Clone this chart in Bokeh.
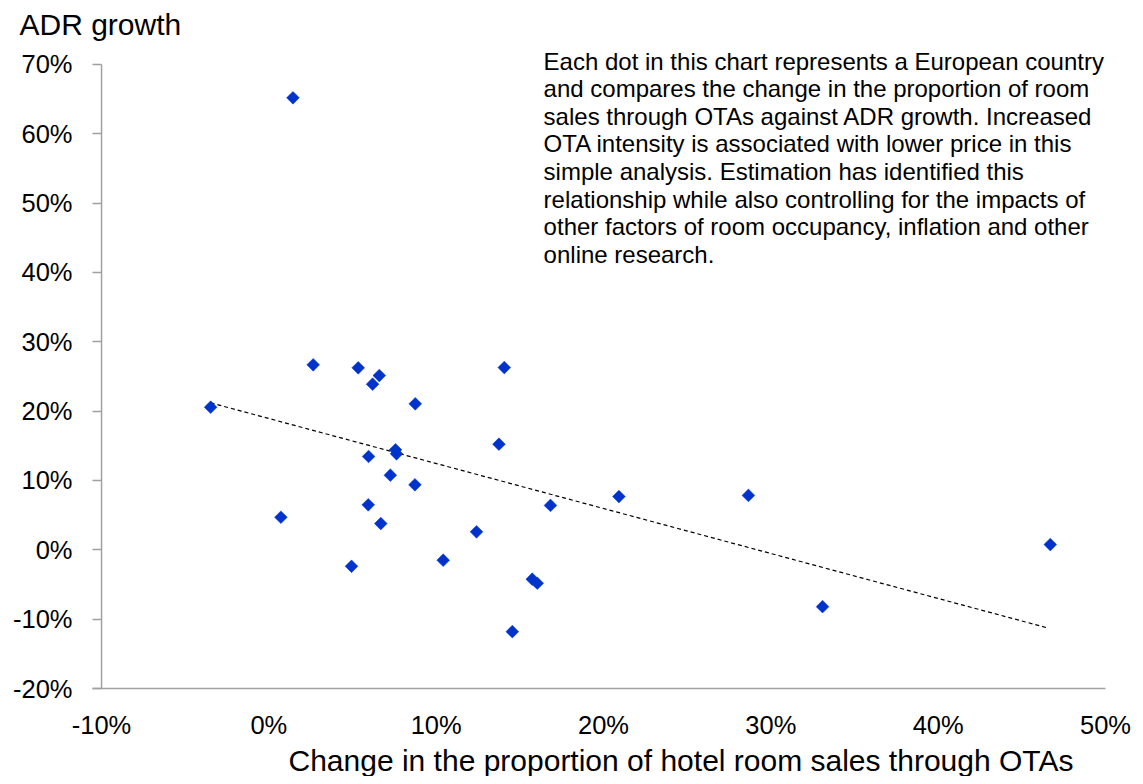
import math
from bokeh.plotting import figure
from bokeh.models import Range1d, FixedTicker, PrintfTickFormatter, Label, ColumnDataSource, Title
from bokeh.embed import file_html
from bokeh.resources import INLINE

# Change in proportion of hotel room sales through OTAs (%)
ota_change = [-3.48, 2.65, 5.34, 6.60, 6.20, 8.75, 14.07, 13.75, 7.57, 7.63,
              5.96, 7.26, 8.73, 16.83, 5.94, 0.72, 6.69, 12.41, 10.42, 4.94,
              15.74, 16.04, 1.44, 14.55, 20.92, 28.66, 33.09, 46.70]
# ADR growth (%)
adr_growth = [20.57, 26.68, 26.25, 25.14, 23.89, 21.06, 26.29, 15.23, 14.42, 13.85,
              13.46, 10.76, 9.38, 6.41, 6.49, 4.70, 3.79, 2.60, -1.50, -2.37,
              -4.24, -4.82, 65.20, -11.80, 7.69, 7.85, -8.20, 0.76]

# Linear trend line end points
trend_x = [-3.48, 46.6]
trend_y = [21.2, -11.3]

x_ticks = [-10, 0, 10, 20, 30, 40, 50]
y_ticks = [-20, -10, 0, 10, 20, 30, 40, 50, 60, 70]
x_min, y_min, y_top = -10, -20, 70

x_title = "Change in the proportion of hotel room sales through OTAs"
y_title = "ADR growth"
note = ("Each dot in this chart represents a European country\n"
        "and compares the change in the proportion of room\n"
        "sales through OTAs against ADR growth. Increased\n"
        "OTA intensity is associated with lower price in this\n"
        "simple analysis. Estimation has identified this\n"
        "relationship while also controlling for the impacts of\n"
        "other factors of room occupancy, inflation and other\n"
        "online research.")

FONT = "Liberation Sans"
AXIS_GREY = "#A0A0A0"

p = figure(width=1135, height=776, output_backend="svg", toolbar_location=None,
           x_range=Range1d(-10.54, 50), y_range=Range1d(-20, 73.46),
           min_border_left=92, min_border_right=30, min_border_top=40, min_border_bottom=88)
p.outline_line_color = None
p.xgrid.visible = False
p.ygrid.visible = False
p.background_fill_color = "white"
p.border_fill_color = "white"

t = Title(text=y_title, align="left", offset=-73, text_font=FONT,
          text_font_size="30px", text_font_style="normal", text_color="black", standoff=0)
p.add_layout(t, "above")

for ax in (p.xaxis[0], p.yaxis[0]):
    ax.axis_line_color = AXIS_GREY
    ax.axis_line_width = 1.5
    ax.major_tick_line_color = AXIS_GREY
    ax.major_tick_line_width = 1.5
    ax.minor_tick_line_color = None
    ax.major_label_text_font = FONT
    ax.major_label_text_font_size = "25.5px"
    ax.major_label_text_color = "black"
    ax.formatter = PrintfTickFormatter(format="%d%%")

xa = p.xaxis[0]
xa.ticker = FixedTicker(ticks=x_ticks)
xa.major_tick_out = 0
xa.major_tick_in = 0
xa.major_label_standoff = 22

xt = Title(text=x_title, align="left", offset=196, text_font=FONT,
           text_font_size="30px", text_font_style="normal", text_color="black", standoff=0)
p.add_layout(xt, "below")

ya = p.yaxis[0]
ya.ticker = FixedTicker(ticks=y_ticks)
ya.axis_line_color = None
ya.major_tick_out = 0
ya.major_tick_in = 9
ya.major_label_standoff = 20

# vertical axis line at the -10% position, from -20% to 70%
p.segment(x0=[x_min], y0=[y_min], x1=[x_min], y1=[y_top], line_color=AXIS_GREY, line_width=1.5)

src = ColumnDataSource(dict(x=ota_change, y=adr_growth))

p.line(trend_x, trend_y, line_color="black", line_width=1.2, line_dash="4 3")
p.scatter("x", "y", source=src, marker="square", size=9, angle=math.pi / 4,
          fill_color="#0033CC", line_color="#0033CC", line_width=0.5)

p.add_layout(Label(x=16.42, y=72.4, text=note, text_font=FONT,
                   text_font_size="24px", text_color="black",
                   text_align="left", text_baseline="top", text_line_height=1.02))

open("out.html", "w").write(file_html(p, INLINE))
